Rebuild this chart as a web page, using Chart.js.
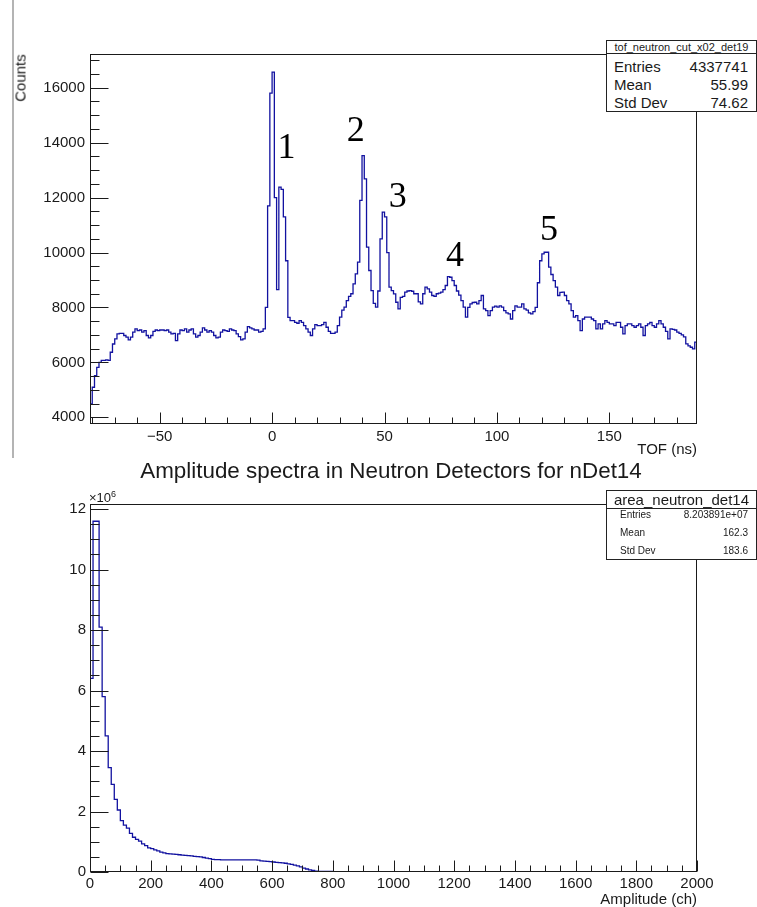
<!DOCTYPE html>
<html><head><meta charset="utf-8">
<script src="https://cdn.jsdelivr.net/npm/chart.js@4.4.1/dist/chart.umd.min.js"></script>
<style>
body{margin:0;background:#fff;width:757px;height:907px;overflow:hidden;position:relative;font-family:"Liberation Sans",Arial,sans-serif;color:#1a1a1a;}
canvas{position:absolute;left:0;}
.t{position:absolute;white-space:nowrap;line-height:1;}
.box{position:absolute;background:#fff;border:1px solid #222;box-sizing:border-box;}
.r{position:absolute;white-space:nowrap;line-height:1;}
</style></head><body>
<div style="position:absolute;left:12px;top:0;width:2px;height:458px;background:#b4b4b4;"></div>
<canvas id="c1" width="757" height="460" style="top:0"></canvas>
<canvas id="c2" width="757" height="447" style="top:460px"></canvas>

<div class="t" style="left:20px;top:78px;font-size:15px;transform:translate(-50%,-50%) rotate(-90deg);">Counts</div>
<div class="t" style="right:60px;top:441px;font-size:15px;">TOF (ns)</div>
<div class="t" style="left:391px;top:460px;font-size:22.4px;transform:translateX(-50%);">Amplitude spectra in Neutron Detectors for nDet14</div>
<div class="t" style="left:89px;top:490px;font-size:13px;">×10<sup style="font-size:9px;vertical-align:5px;">6</sup></div>
<div class="t" style="right:60px;top:891px;font-size:15px;">Amplitude (ch)</div>

<div class="box" style="left:606px;top:40px;width:151px;height:72px;">
  <div style="position:absolute;left:0;top:0;width:100%;height:12px;border-bottom:1px solid #222;"></div>
  <div class="r" style="left:0;width:100%;text-align:center;top:1px;font-size:11px;">tof_neutron_cut_x02_det19</div>
  <div class="r" style="left:7px;top:18px;font-size:15px;">Entries</div>
  <div class="r" style="right:8px;top:18px;font-size:15px;">4337741</div>
  <div class="r" style="left:7px;top:36px;font-size:15px;">Mean</div>
  <div class="r" style="right:8px;top:36px;font-size:15px;">55.99</div>
  <div class="r" style="left:7px;top:54px;font-size:15px;">Std Dev</div>
  <div class="r" style="right:8px;top:54px;font-size:15px;">74.62</div>
</div>
<div class="box" style="left:606px;top:490px;width:151px;height:70px;">
  <div style="position:absolute;left:0;top:0;width:100%;height:17px;border-bottom:1px solid #222;"></div>
  <div class="r" style="left:0;width:100%;text-align:center;top:1px;font-size:15px;">area_neutron_det14</div>
  <div class="r" style="left:13px;top:19px;font-size:10px;">Entries</div>
  <div class="r" style="right:8px;top:19px;font-size:10px;">8.203891e+07</div>
  <div class="r" style="left:13px;top:37px;font-size:10px;">Mean</div>
  <div class="r" style="right:8px;top:37px;font-size:10px;">162.3</div>
  <div class="r" style="left:13px;top:55px;font-size:10px;">Std Dev</div>
  <div class="r" style="right:8px;top:55px;font-size:10px;">183.6</div>
</div>

<script>
// ---------------- DATA ----------------
// TOF histogram: 1 ns bins, first bin starts at -81 ns
const tofBinStart = -81;
const tofBinWidth = 1;
const tofCounts = [
 4490,5095,5520,5820,6000,6070,6070,6090,6070,6370, // -81..-72
 6670,6855,7040,7060,7060,6980,6920,6820,6920,7100, // -71..-62
 7220,7160,7180,7100,7160,6980,6890,6980,7130,7180, // -61..-52
 7160,7180,7180,7160,7180,7100,7040,7060,6795,7040, // -51..-42
 7180,7160,7220,7100,7180,7220,7040,6920,6980,7100, // -41..-32
 7260,7180,7100,7160,7100,6980,6890,6920,7100,7180, // -31..-22
 7160,7130,7220,7180,7160,7040,6940,6820,6855,7100, // -21..-12
 7305,7260,7220,7180,7180,7100,7130,7220,8000,11700, // -11..-2
 15800,16570,12000,8650,12380,12300,11300,9700,7640,7520, // -1..8
 7520,7460,7425,7520,7460,7340,7220,7100,6980,7220, // 9..18
 7375,7340,7340,7375,7460,7280,7130,7060,7060,7100, // 19..28
 7340,7645,7900,8010,8250,8400,8500,8860,9220,9650, // 29..38
 11900,13530,12680,10200,9345,8615,8150,8010,8600,10500, // 39..48
 11470,11300,10000,8740,8615,8495,8190,7950,8370,8400, // 49..58
 8555,8600,8615,8590,8500,8500,8200,8130,8500,8737, // 59..68
 8680,8560,8435,8400,8500,8520,8560,8650,8800,9125, // 69..78
 9100,8980,8800,8600,8450,8250,8010,7645,8000,8130, // 79..88
 8180,8190,8130,8250,8435,7950,7887,7705,7887,8010, // 89..98
 8050,8010,8060,8010,7887,7800,7765,7580,7887,8060, // 99..108
 8010,8010,8130,7950,7900,7800,7765,7850,8000,8900, // 109..118
 9700,9950,10010,10010,9465,9200,8980,8740,8435,8550, // 119..128
 8560,8435,8250,8130,7887,7645,7700,7520,7160,7580, // 129..138
 7645,7645,7645,7580,7520,7220,7400,7220,7400,7520, // 139..148
 7460,7400,7400,7340,7460,7460,7280,7040,7340,7400, // 149..158
 7400,7340,7280,7340,7400,7280,6980,7340,7400,7460, // 159..168
 7340,7280,7400,7520,7400,7280,7130,6855,7220,7200, // 169..178
 7180,7100,7060,7000,6930,6673,6600,6552,6490,6735  // 179..188
];
const tofXTicks = [-50, 0, 50, 100, 150];
const tofYTicks = [4000, 6000, 8000, 10000, 12000, 14000, 16000];
const peakLabels = ['1', '2', '3', '4', '5'];
const peakLabelTof = [6.4, 37.2, 55.9, 81.4, 123.2];
const peakLabelCounts = [13770, 14410, 12010, 9840, 10800];

// Amplitude histogram: 10 ch bins starting at 0, counts in units of 10^6
const ampBinStart = 0;
const ampBinWidth = 10;
const ampCountsMillions = [
 6.4,11.6,11.6,8.1,5.8,4.5,3.45,2.9,2.4,2.05,      // 0..90
 1.7,1.55,1.45,1.28,1.15,1.08,1.02,0.93,0.87,0.80, // 100..190
 0.77,0.73,0.70,0.66,0.63,0.61,0.60,0.59,0.58,0.57, // 200..290
 0.56,0.55,0.54,0.53,0.52,0.51,0.50,0.48,0.46,0.44, // 300..390
 0.42,0.41,0.41,0.40,0.40,0.40,0.40,0.40,0.40,0.40, // 400..490
 0.40,0.40,0.40,0.40,0.40,0.39,0.37,0.36,0.35,0.34, // 500..590
 0.33,0.32,0.31,0.30,0.29,0.27,0.25,0.23,0.20,0.17, // 600..690
 0.13,0.10,0.07,0.05,0.03,0.02,0.02,0.02,0.02,0.02  // 700..790
];
const ampXTicks = [0,200,400,600,800,1000,1200,1400,1600,1800,2000];
const ampYTicks = [0,2,4,6,8,10,12];

// ---------------- HELPERS ----------------
function histPoints(start, width, counts, closeToZero){
  const pts = [];
  if (closeToZero) pts.push({x:start, y:0});
  counts.forEach((c,i)=>pts.push({x:start+i*width, y:c}));
  const end = start + counts.length*width;
  pts.push({x:end, y:counts[counts.length-1]});
  if (closeToZero) pts.push({x:end, y:0});
  return pts;
}
const FONT = {family:'"Liberation Sans", Arial, sans-serif', size:15};
const INK = '#1a1a1a';
const LINE = '#1212a0';

function makeFrame(id, cfg){
  return {
    id: id,
    afterDraw(chart){
      const ctx = chart.ctx, a = chart.chartArea, x = chart.scales.x, y = chart.scales.y;
      ctx.save();
      ctx.strokeStyle = INK; ctx.lineWidth = 1;
      const L = Math.round(a.left), T = Math.round(a.top), R = Math.round(a.right), B = Math.round(a.bottom);
      ctx.strokeRect(L+0.5, T+0.5, R-L-1, B-T-1);
      ctx.beginPath();
      const ay = B-0.5, ax = L+0.5;
      const xs = Math.ceil(x.min/cfg.xMinor)*cfg.xMinor;
      for (let k = 0; ; k++){
        const v = xs + k*cfg.xMinor;
        if (v > x.max + 1e-9) break;
        const px = Math.round(x.getPixelForValue(v))+0.5;
        const r = v/cfg.xMajor;
        const major = Math.abs(r - Math.round(r)) < 1e-6;
        ctx.moveTo(px, ay); ctx.lineTo(px, ay - (major ? cfg.xMajLen : cfg.xMinLen));
      }
      const ys = Math.ceil(y.min/cfg.yMinor)*cfg.yMinor;
      for (let k = 0; ; k++){
        const v = ys + k*cfg.yMinor;
        if (v > y.max + 1e-9) break;
        const py = Math.round(y.getPixelForValue(v))+0.5;
        const r = v/cfg.yMajor;
        const major = Math.abs(r - Math.round(r)) < 1e-6;
        ctx.moveTo(ax, py); ctx.lineTo(ax + (major ? cfg.yMajLen : cfg.yMinLen), py);
      }
      ctx.stroke();
      if (cfg.labels){
        ctx.fillStyle = '#000';
        ctx.font = '36px "Liberation Serif", "Times New Roman", serif';
        ctx.textAlign = 'center'; ctx.textBaseline = 'middle';
        cfg.labels.forEach((t,i)=>{
          ctx.fillText(t, x.getPixelForValue(cfg.lx[i]), y.getPixelForValue(cfg.ly[i]));
        });
      }
      ctx.restore();
    }
  };
}

function fixed(w, h){ return function(s){ if (w!==null) s.width = w; if (h!==null) s.height = h; }; }

// ---------------- CHART 1 ----------------
new Chart(document.getElementById('c1'), {
  type:'line',
  data:{datasets:[{data:histPoints(tofBinStart, tofBinWidth, tofCounts, false), borderColor:LINE, borderWidth:1.3, pointRadius:0, stepped:'before', fill:false, tension:0}]},
  options:{
    responsive:false, animation:false, devicePixelRatio:1,
    layout:{padding:{left:0, top:54, right:60, bottom:0}, autoPadding:false},
    plugins:{legend:{display:false}, tooltip:{enabled:false}},
    scales:{
      x:{type:'linear', min:-81, max:189, grid:{display:false, drawTicks:false}, border:{display:false},
         afterBuildTicks:s=>{s.ticks = tofXTicks.map(v=>({value:v}));}, afterFit:fixed(null,36),
         ticks:{font:FONT, color:INK, padding:4, maxRotation:0, autoSkip:false,
           callback:v=> v<0 ? '\u2212'+Math.abs(v) : String(v)}},
      y:{type:'linear', min:3757, max:17228, grid:{display:false, drawTicks:false}, border:{display:false},
         afterBuildTicks:s=>{s.ticks = tofYTicks.map(v=>({value:v}));}, afterFit:fixed(90,null),
         ticks:{font:FONT, color:INK, padding:5, autoSkip:false, callback:v=>String(v)}}
    }
  },
  plugins:[makeFrame('frameTof', {xMinor:10, xMajor:50, xMajLen:11, xMinLen:6, yMinor:500, yMajor:2000, yMajLen:18, yMinLen:9,
        labels:peakLabels, lx:peakLabelTof, ly:peakLabelCounts})]
});

// ---------------- CHART 2 ----------------
new Chart(document.getElementById('c2'), {
  type:'line',
  data:{datasets:[{data:histPoints(ampBinStart, ampBinWidth, ampCountsMillions, true), borderColor:LINE, borderWidth:1.3, pointRadius:0, stepped:'before', fill:false, tension:0}]},
  options:{
    responsive:false, animation:false, devicePixelRatio:1,
    layout:{padding:{left:0, top:44, right:60, bottom:0}, autoPadding:false},
    plugins:{legend:{display:false}, tooltip:{enabled:false}},
    scales:{
      x:{type:'linear', min:0, max:2000, grid:{display:false, drawTicks:false}, border:{display:false},
         afterBuildTicks:s=>{s.ticks = ampXTicks.map(v=>({value:v}));}, afterFit:fixed(null,35),
         ticks:{font:FONT, color:INK, padding:3, maxRotation:0, autoSkip:false, callback:v=>String(v)}},
      y:{type:'linear', min:0, max:12.17, grid:{display:false, drawTicks:false}, border:{display:false},
         afterBuildTicks:s=>{s.ticks = ampYTicks.map(v=>({value:v}));}, afterFit:fixed(90,null),
         ticks:{font:FONT, color:INK, padding:4, autoSkip:false, callback:v=>String(v)}}
    }
  },
  plugins:[makeFrame('frameAmp', {xMinor:50, xMajor:200, xMajLen:11, xMinLen:6, yMinor:0.5, yMajor:2, yMajLen:18, yMinLen:9})]
});
</script>
</body></html>
